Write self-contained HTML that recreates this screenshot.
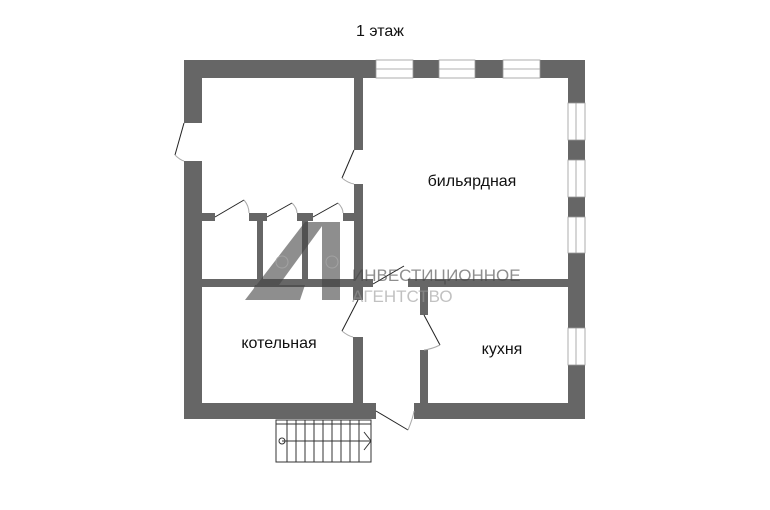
<!DOCTYPE html>
<html><head><meta charset="utf-8"><style>
html,body{margin:0;padding:0;background:#fff;width:770px;height:510px;overflow:hidden}
svg{display:block}
text{font-family:"Liberation Sans",sans-serif}
</style></head><body>
<svg width="770" height="510" viewBox="0 0 770 510" xmlns="http://www.w3.org/2000/svg">
<text x="380" y="36" font-size="16" text-anchor="middle" fill="#111">1 этаж</text>
<g fill="#666">
<rect x="184" y="60" width="192" height="18"/>
<rect x="413" y="60" width="26" height="18"/>
<rect x="475" y="60" width="28" height="18"/>
<rect x="540" y="60" width="45" height="18"/>
<rect x="184" y="60" width="18" height="63"/>
<rect x="184" y="161" width="18" height="258"/>
<rect x="568" y="60" width="17" height="43"/>
<rect x="568" y="140" width="17" height="20"/>
<rect x="568" y="197" width="17" height="20"/>
<rect x="568" y="253" width="17" height="75"/>
<rect x="568" y="365" width="17" height="54"/>
<rect x="184" y="403" width="192" height="16"/>
<rect x="414" y="403" width="171" height="16"/>
<rect x="354" y="78" width="9" height="72"/>
<rect x="354" y="184" width="9" height="96"/>
<rect x="202" y="213" width="13" height="8"/>
<rect x="249" y="213" width="18" height="8"/>
<rect x="297" y="213" width="16" height="8"/>
<rect x="343" y="213" width="11" height="8"/>
<rect x="257" y="221" width="6" height="58"/>
<rect x="302" y="221" width="6" height="58"/>
<rect x="202" y="279" width="171" height="8"/>
<rect x="408" y="279" width="160" height="8"/>
<rect x="353" y="287" width="10" height="13"/>
<rect x="353" y="337" width="10" height="66"/>
<rect x="420" y="287" width="8" height="28"/>
<rect x="420" y="350" width="8" height="53"/>
</g>
<g fill="#fff" stroke="#999" stroke-width="0.8">
<rect x="376" y="60" width="37" height="18"/><line x1="376" y1="69" x2="413" y2="69"/>
<rect x="439" y="60" width="36" height="18"/><line x1="439" y1="69" x2="475" y2="69"/>
<rect x="503" y="60" width="37" height="18"/><line x1="503" y1="69" x2="540" y2="69"/>
<rect x="568" y="103" width="17" height="37"/><line x1="576" y1="103" x2="576" y2="140"/>
<rect x="568" y="160" width="17" height="37"/><line x1="576" y1="160" x2="576" y2="197"/>
<rect x="568" y="217" width="17" height="36"/><line x1="576" y1="217" x2="576" y2="253"/>
<rect x="568" y="328" width="17" height="37"/><line x1="576" y1="328" x2="576" y2="365"/>
</g>
<g fill="none" stroke="#222" stroke-width="1">
<path d="M184 123 L175 155"/><path d="M175 155 Q180 160 184 161" stroke="#aaa"/>
<path d="M354 150 L342 178"/><path d="M342 178 Q348 183 354 184" stroke="#aaa"/>
<path d="M215 217 L244 200"/><path d="M244 200 Q249 206 249 213" stroke="#aaa"/>
<path d="M267 217 L292 203"/><path d="M292 203 Q297 208 297 213" stroke="#aaa"/>
<path d="M313 217 L338 203"/><path d="M338 203 Q343 208 343 213" stroke="#aaa"/>
<path d="M373 284 L404 266"/>
<path d="M358 300 L342 331"/><path d="M342 331 Q348 336 353 337" stroke="#aaa"/>
<path d="M424 315 L440 345"/><path d="M440 345 Q432 349 424 350" stroke="#aaa"/>
<path d="M376 411 L408 430"/><path d="M408 430 Q413 418 414 411" stroke="#aaa"/>
</g>
<g fill="none" stroke="#333" stroke-width="1">
<rect x="276" y="420" width="95" height="42"/>
<line x1="276" y1="424" x2="371" y2="424"/>
<path d="M287 420V462M296 420V462M305 420V462M314 420V462M323 420V462M332 420V462M341 420V462M350 420V462M359 420V462"/>
<line x1="282" y1="441" x2="371" y2="441"/>
<circle cx="282" cy="441" r="3"/>
<path d="M364 432 L371 441 L364 450"/>
</g>
<g opacity="0.6">
<path d="M245 300 L305 222 L325 222 L268 300 Z" fill="#444"/>
<rect x="322" y="222" width="18" height="78" fill="#444"/>
<path d="M255 285 L305 285 L300 300 L250 300 Z" fill="#444"/>
<circle cx="282" cy="262" r="6" fill="none" stroke="#666"/>
<circle cx="332" cy="262" r="6" fill="none" stroke="#666"/>
<text x="352" y="281" font-size="17" fill="#444">ИНВЕСТИЦИОННОЕ</text>
<text x="352" y="302" font-size="17" fill="#999">АГЕНТСТВО</text>
</g>
<text x="472" y="186" font-size="16" text-anchor="middle" fill="#111">бильярдная</text>
<text x="279" y="348" font-size="16" text-anchor="middle" fill="#111">котельная</text>
<text x="502" y="354" font-size="16" text-anchor="middle" fill="#111">кухня</text>
</svg>
</body></html>
